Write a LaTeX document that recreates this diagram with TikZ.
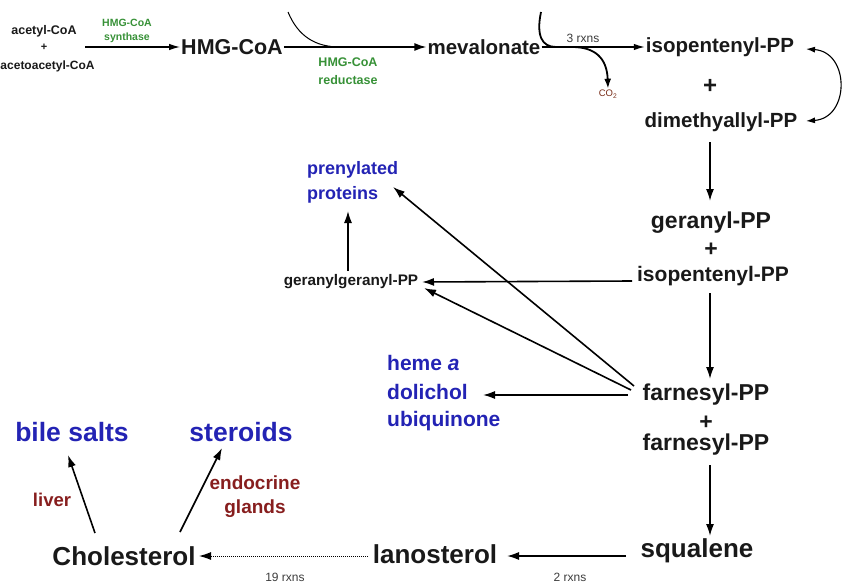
\documentclass[tikz,border=0pt]{standalone}
\usepackage{fontspec}
\setmainfont{Liberation Sans}
\usetikzlibrary{arrows.meta}
\definecolor{enzgreen}{RGB}{55,145,55}
\definecolor{prodblue}{RGB}{35,35,180}
\definecolor{tissred}{RGB}{135,30,30}
\definecolor{rxgray}{RGB}{60,60,60}
\definecolor{cobrown}{RGB}{120,45,25}
\tikzset{
  fs/.style={font=\bfseries\fontsize{#1}{#1}\selectfont},
  met/.style={fs=#1, inner sep=1pt, text=black!90},
  prod/.style={fs=#1, inner sep=1pt, text=prodblue},
  enz/.style={fs=#1, inner sep=1pt, text=enzgreen, align=center},
  tiss/.style={fs=#1, inner sep=1pt, text=tissred},
  rx/.style={font=\fontsize{#1}{#1}\selectfont, inner sep=1pt, text=rxgray},
  arr/.style={-{Latex[length=12pt,width=8pt]}, line width=1.6pt},
  thinarr/.style={-{Latex[length=11pt,width=6.5pt]}, line width=1.2pt},
}
\begin{document}
\begin{tikzpicture}[x=1pt,y=-1pt]
\useasboundingbox (0,0) rectangle (843,586);
% substrates
\node[met=12.5] (acoa) at (44,31) {acetyl-CoA};
\node[met=11] (plus0) at (44,47) {+};
\node[met=12] (aacoa) at (47.5,66) {acetoacetyl-CoA};
\coordinate (s0) at (85,47);
% top row
\node[met=21.5] (hmg) at (232,47) {HMG-CoA};
\node[met=20.5] (mev) at (484,47) {mevalonate};
\node[met=20.5] (ipp) at (720,47) {isopentenyl-PP};
\node[met=24] (plus1) at (710,86) {+};
\node[met=20.5] (dmapp) at (721,122) {dimethyallyl-PP};
\node[enz=10.5] (synth) at (127,31) {HMG-CoA\\[3pt]synthase};
\node[enz=12.5] (red) at (348,71) {HMG-CoA\\[6pt]reductase};
\node[rx=12] (rx3) at (583,38) {3 rxns};
\node[font=\fontsize{9.5}{10}\selectfont, text=cobrown, inner sep=1pt] (co2) at (608,94) {CO\textsubscript{2}};
\draw[thinarr] (s0) -- (hmg.west);
\draw[arr] (hmg.east) -- (mev.west);
\draw[thinarr] (mev.east) -- (ipp.west);
% cofactor curves
\coordinate (nadph) at (288,12);
\coordinate (rj) at (340,47);
\draw[line width=1pt] (nadph) .. controls (298,36) and (315,47) .. (rj);
\coordinate (atp) at (541,12);
\coordinate (mj1) at (556,47);
\coordinate (mj2) at (572,47);
\draw[line width=1.8pt] (atp) .. controls (536,36) and (542,47) .. (mj1);
\draw[line width=1.8pt, -{Latex[length=10pt,width=7pt]}] (mj2) .. controls (595,47) and (607,58) .. (co2.north);
% isomerase
\coordinate (iso1) at (806,49);
\coordinate (iso2) at (806,121);
\draw[line width=1.1pt, {Latex[length=9pt,width=6pt]}-{Latex[length=9pt,width=6pt]}] (iso1) .. controls (850,52) and (850,118) .. (iso2);
% middle column
\node[met=23] (gpp) at (711,223) {geranyl-PP};
\node[met=23] (plus2) at (711,250) {+};
\node[met=21] (ipp2) at (713,276) {isopentenyl-PP};
\node[met=23] (fpp) at (706,395) {farnesyl-PP};
\node[met=23] (plus3) at (706,423) {+};
\node[met=23] (fpp2) at (706,445) {farnesyl-PP};
\node[met=26] (squal) at (697,551) {squalene};
\coordinate (c0) at (710,142);
\coordinate (c0e) at (710,201);
\coordinate (c1) at (710,293);
\coordinate (c2) at (710,379);
\coordinate (c3) at (710,465);
\coordinate (c4) at (710,536);
% side branches
\node[met=15.3] (ggpp) at (351,282) {geranylgeranyl-PP};
\node[prod=18, align=left, anchor=west] (prenyl) at (306,182) {prenylated\\[7pt]proteins};
\node[prod=21, align=left, anchor=west] (heme) at (386,393) {heme \textit{a}\\[8pt]dolichol\\[6pt]ubiquinone};
\coordinate (ippw) at (632,281);
\coordinate (fo1) at (634,386);
\coordinate (fo2) at (631,390);
\coordinate (fo3) at (628,395);
\coordinate (ggpe) at (422,282);
\coordinate (ggpe2) at (424,288);
\coordinate (prt) at (393,187);
\coordinate (hemt) at (483,395);
\coordinate (ggpn) at (348,271);
\coordinate (prb) at (348,211);
\draw[arr] (c0) -- (c0e);
\draw[arr] (c1) -- (c2);
\draw[arr] (c3) -- (c4);
\draw[arr] (ippw) -- (ggpe);
\draw[arr] (fo1) -- (prt);
\draw[arr] (fo2) -- (ggpe2);
\draw[arr] (fo3) -- (hemt);
\draw[arr] (ggpn) -- (prb);
% bottom row
\node[met=26] (lano) at (435,554) {lanosterol};
\node[met=26] (chol) at (124,556) {Cholesterol};
\node[rx=12] (rx2) at (570,577) {2 rxns};
\node[rx=12] (rx19) at (285,577) {19 rxns};
\coordinate (sw) at (626,556);
\coordinate (lt) at (507,556);
\coordinate (lw) at (368,556);
\coordinate (ct) at (199,556);
\draw[arr] (sw) -- (lt);
\draw[line width=1pt, densely dotted, -{Latex[length=12pt,width=8pt]}] (lw) -- (ct);
\node[prod=26.5] (bile) at (72,432) {bile salts};
\node[prod=26.5] (ster) at (241,432) {steroids};
\node[tiss=18.5] (liver) at (52,500) {liver};
\node[tiss=19, align=center] (endo) at (255,497) {endocrine\\[5pt]glands};
\coordinate (cb) at (95,533);
\coordinate (bt) at (68,455);
\coordinate (cs) at (180,532);
\coordinate (st) at (222,448);
\draw[arr] (cb) -- (bt);
\draw[arr] (cs) -- (st);
\end{tikzpicture}
\end{document}
